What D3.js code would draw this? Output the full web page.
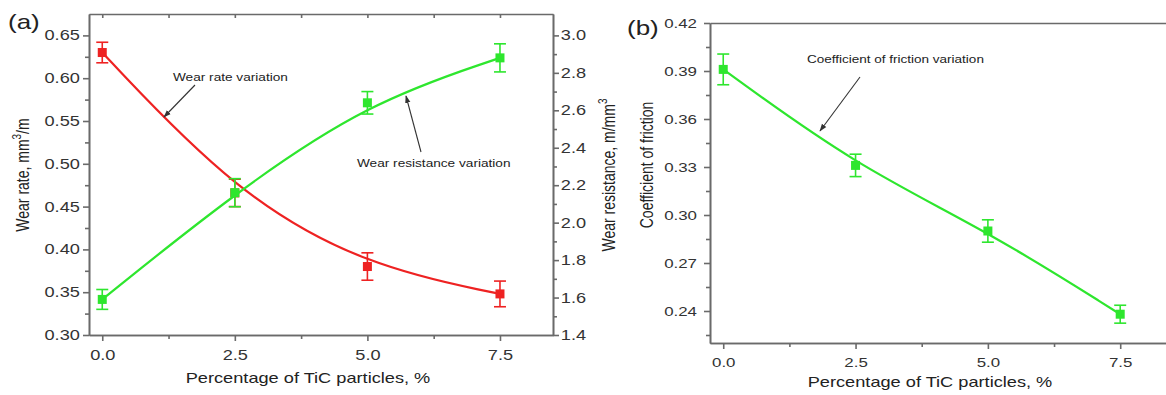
<!DOCTYPE html>
<html>
<head>
<meta charset="utf-8">
<script src="https://cdn.jsdelivr.net/npm/d3@7"></script>
<style>
  body { margin: 0; background: #fff; }
  svg { display: block; font-family: Arial, "Liberation Sans", sans-serif; }
  .axis path, .axis line { stroke: #6a6a6a; stroke-width: 1.6; }
  .axis text { fill: #333; }
</style>
</head>
<body>
<div id="chart"></div>
<script>
// data
const tic = [0, 2.5, 5.0, 7.5];
const wearRate = [0.630, 0.466, 0.380, 0.348];
const wearRateErr = [0.012, 0.016, 0.016, 0.015];
const wearRes = [1.59, 2.16, 2.64, 2.88];
const wearResErr = [0.053, 0.075, 0.06, 0.075];
const cof = [0.391, 0.331, 0.290, 0.238];
const cofErr = [0.0096, 0.007, 0.007, 0.0056];

const xTicks = [0, 2.5, 5.0, 7.5];
const xMinor = [1.25, 3.75, 6.25];
const rateTicks = [0.30, 0.35, 0.40, 0.45, 0.50, 0.55, 0.60, 0.65];
const resTicks = [1.4, 1.6, 1.8, 2.0, 2.2, 2.4, 2.6, 2.8, 3.0];
const cofTicks = [0.24, 0.27, 0.30, 0.33, 0.36, 0.39, 0.42];

const RED = "#ee2222";
const GREEN = "#2ee62e";
const SX = 1.3; // the source picture is stretched sideways

const svg = d3.select("#chart").append("svg")
    .attr("width", 1166)
    .attr("height", 395);

svg.append("defs").append("marker")
    .attr("id", "arrow")
    .attr("viewBox", "0 0 10 10")
    .attr("refX", 9).attr("refY", 5)
    .attr("markerWidth", 7).attr("markerHeight", 7)
    .attr("orient", "auto")
    .append("path")
    .attr("d", "M0,1.5L10,5L0,8.5Z")
    .attr("fill", "#333");

function htext(x, y, str, size, anchor) {
    return svg.append("text")
        .attr("transform", `translate(${x},${y}) scale(${SX},1)`)
        .attr("text-anchor", anchor || "start")
        .attr("font-size", size)
        .attr("fill", "#222")
        .text(str);
}

function vtext(x, y, size) {
    return svg.append("text")
        .attr("transform", `translate(${x},${y}) scale(${SX},1) rotate(-90)`)
        .attr("text-anchor", "middle")
        .attr("font-size", size)
        .attr("fill", "#222");
}

function stretchLabels(g) {
    g.selectAll("text").attr("transform", `scale(${SX},1)`);
}

function drawSeries(g, x, y, vals, errs, color) {
    const pts = tic.map((t, i) => [x(t), y(vals[i])]);
    g.append("path")
        .attr("d", d3.line().curve(d3.curveBasis)(pts))
        .attr("fill", "none")
        .attr("stroke", color)
        .attr("stroke-width", 2.2);
    const eb = g.selectAll(null).data(tic).join("g")
        .attr("stroke", color).attr("stroke-width", 1.6);
    eb.append("line")
        .attr("x1", d => x(d)).attr("x2", d => x(d))
        .attr("y1", (d, i) => y(vals[i] - errs[i]))
        .attr("y2", (d, i) => y(vals[i] + errs[i]));
    eb.append("line")
        .attr("x1", d => x(d) - 6).attr("x2", d => x(d) + 6)
        .attr("y1", (d, i) => y(vals[i] - errs[i]))
        .attr("y2", (d, i) => y(vals[i] - errs[i]));
    eb.append("line")
        .attr("x1", d => x(d) - 6).attr("x2", d => x(d) + 6)
        .attr("y1", (d, i) => y(vals[i] + errs[i]))
        .attr("y2", (d, i) => y(vals[i] + errs[i]));
    g.selectAll(null).data(tic).join("rect")
        .attr("x", d => x(d) - 4.5)
        .attr("y", (d, i) => y(vals[i]) - 4.5)
        .attr("width", 9).attr("height", 9)
        .attr("fill", color);
}

// ---------- panel (a) ----------
const xa = d3.scaleLinear().domain([-0.25, 8.5]).range([89, 553]);
const ya = d3.scaleLinear().domain([0.30, 0.675]).range([335, 14]);
const yr = d3.scaleLinear().domain([1.4, 1.4 + 1.6 * 0.375 / 0.35]).range([335, 14]);

svg.append("g").attr("class", "axis")
    .attr("transform", "translate(0,335)")
    .call(d3.axisBottom(xa).tickValues(xMinor).tickFormat("").tickSize(4).tickSizeOuter(0));
svg.append("g").attr("class", "axis")
    .attr("transform", "translate(0,335)")
    .call(d3.axisBottom(xa).tickValues(xTicks).tickFormat(d3.format(".1f")).tickSize(6).tickPadding(9).tickSizeOuter(0))
    .attr("font-size", 14).call(stretchLabels);
svg.append("g").attr("class", "axis")
    .attr("transform", "translate(0,14)")
    .call(d3.axisTop(xa).tickValues(xTicks.concat(xMinor)).tickFormat("").tickSize(-4).tickSizeOuter(0));

svg.append("g").attr("class", "axis")
    .attr("transform", "translate(89,0)")
    .call(d3.axisLeft(ya).tickValues(d3.range(0.325, 0.67, 0.05)).tickFormat("").tickSize(4).tickSizeOuter(0));
svg.append("g").attr("class", "axis")
    .attr("transform", "translate(89,0)")
    .call(d3.axisLeft(ya).tickValues(rateTicks).tickFormat(d3.format(".2f")).tickSize(6).tickPadding(1).tickSizeOuter(0))
    .attr("font-size", 14).call(stretchLabels);

svg.append("g").attr("class", "axis")
    .attr("transform", "translate(553,0)")
    .call(d3.axisRight(yr).tickValues(d3.range(1.5, 3.05, 0.2)).tickFormat("").tickSize(4).tickSizeOuter(0));
svg.append("g").attr("class", "axis")
    .attr("transform", "translate(553,0)")
    .call(d3.axisRight(yr).tickValues(resTicks).tickFormat(d3.format(".1f")).tickSize(6).tickPadding(0).tickSizeOuter(0))
    .attr("font-size", 14).call(stretchLabels);

const ga = svg.append("g");
drawSeries(ga, xa, ya, wearRate, wearRateErr, RED);
drawSeries(ga, xa, yr, wearRes, wearResErr, GREEN);

htext(8, 29, "(a)", 20);
htext(308, 383, "Percentage of TiC particles, %", 14, "middle");
const t1 = vtext(29, 175, 14);
t1.append("tspan").text("Wear rate, mm");
t1.append("tspan").attr("font-size", 10).attr("dy", -6).text("3");
t1.append("tspan").attr("dy", 6).text("/m");
const t2 = vtext(615, 175, 14);
t2.append("tspan").text("Wear resistance, m/mm");
t2.append("tspan").attr("font-size", 10).attr("dy", -6).text("3");

htext(173, 81, "Wear rate variation", 10.5);
htext(357, 167, "Wear resistance variation", 10.5);
svg.append("line")
    .attr("x1", 195).attr("y1", 85).attr("x2", 164).attr("y2", 117)
    .attr("stroke", "#333").attr("stroke-width", 1.1).attr("marker-end", "url(#arrow)");
svg.append("line")
    .attr("x1", 421).attr("y1", 152).attr("x2", 406).attr("y2", 96)
    .attr("stroke", "#333").attr("stroke-width", 1.1).attr("marker-end", "url(#arrow)");

// ---------- panel (b) ----------
const xb = d3.scaleLinear().domain([-0.25, 8.5]).range([710, 710 + 8.75 * 52.93]);
const yb = d3.scaleLinear().domain([0.22, 0.42]).range([343, 23]);

svg.append("g").attr("class", "axis")
    .attr("transform", "translate(0,343)")
    .call(d3.axisBottom(xb).tickValues(xMinor).tickFormat("").tickSize(4).tickSizeOuter(0));
svg.append("g").attr("class", "axis")
    .attr("transform", "translate(0,343)")
    .call(d3.axisBottom(xb).tickValues(xTicks).tickFormat(d3.format(".1f")).tickSize(6).tickPadding(9).tickSizeOuter(0))
    .attr("font-size", 13).call(stretchLabels);
svg.append("g").attr("class", "axis")
    .attr("transform", "translate(0,23)")
    .call(d3.axisTop(xb).tickValues([]).tickSizeOuter(0));

svg.append("g").attr("class", "axis")
    .attr("transform", "translate(710,0)")
    .call(d3.axisLeft(yb).tickValues(d3.range(0.225, 0.42, 0.03)).tickFormat("").tickSize(4).tickSizeOuter(0));
svg.append("g").attr("class", "axis")
    .attr("transform", "translate(710,0)")
    .call(d3.axisLeft(yb).tickValues(cofTicks).tickFormat(d3.format(".2f")).tickSize(6).tickPadding(4).tickSizeOuter(0))
    .attr("font-size", 13).call(stretchLabels);

const gb = svg.append("g");
drawSeries(gb, xb, yb, cof, cofErr, GREEN);

htext(627, 35, "(b)", 20);
htext(930, 387, "Percentage of TiC particles, %", 14, "middle");
vtext(653, 165, 14).text("Coefficient of friction");
htext(807, 63, "Coefficient of friction variation", 10.4);
svg.append("line")
    .attr("x1", 860).attr("y1", 77).attr("x2", 820).attr("y2", 131)
    .attr("stroke", "#333").attr("stroke-width", 1.1).attr("marker-end", "url(#arrow)");
</script>
</body>
</html>
